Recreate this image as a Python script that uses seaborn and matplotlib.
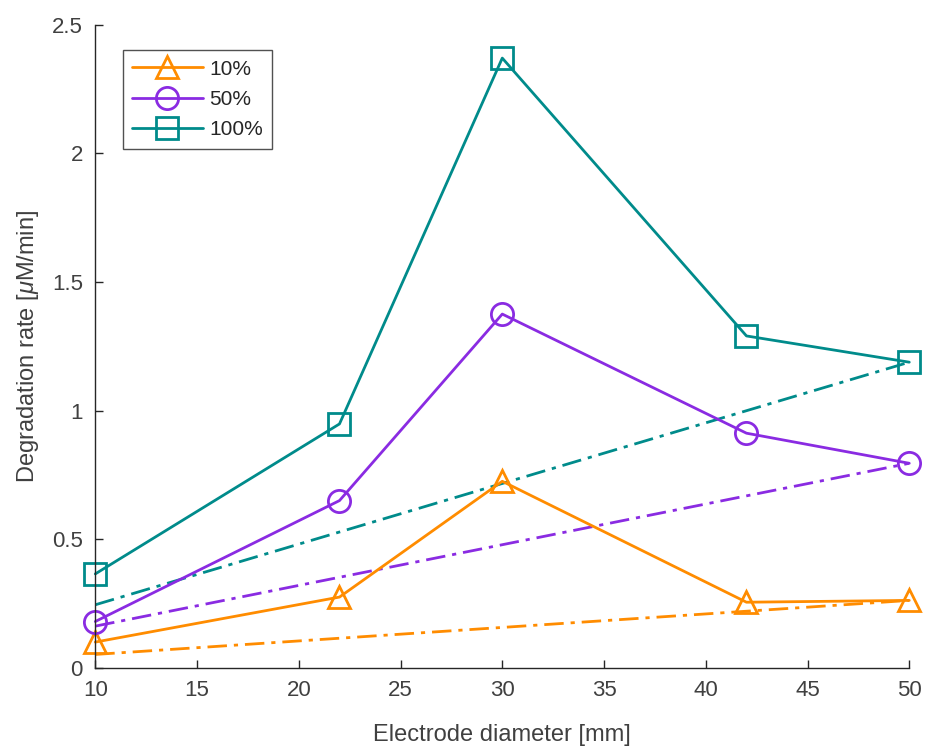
import matplotlib
matplotlib.use("Agg")
import matplotlib.pyplot as plt
import numpy as np
import pandas as pd
import seaborn as sns

# measured data
diameter = [10, 22, 30, 42, 50]
rate_10 = [0.10, 0.275, 0.725, 0.255, 0.262]
rate_50 = [0.18, 0.65, 1.375, 0.912, 0.795]
rate_100 = [0.365, 0.948, 2.37, 1.29, 1.188]

# dash-dot trend lines (end points)
trend_x = [10, 50]
trend_10 = [0.052, 0.262]
trend_50 = [0.162, 0.795]
trend_100 = [0.245, 1.188]

labels = ["10%", "50%", "100%"]
colors = ["#FF8C00", "#8A2BE2", "#008B8B"]
markers = ["^", "o", "s"]

df = pd.DataFrame({
    "diameter": diameter * 3,
    "rate": rate_10 + rate_50 + rate_100,
    "series": [l for l in labels for _ in diameter],
})
df_trend = pd.DataFrame({
    "diameter": trend_x * 3,
    "rate": trend_10 + trend_50 + trend_100,
    "series": [l for l in labels for _ in trend_x],
})

sns.set_style("white")
plt.rcParams["font.family"] = ["Liberation Sans", "DejaVu Sans"]
plt.rcParams["mathtext.fontset"] = "custom"
plt.rcParams["mathtext.it"] = "Liberation Sans:italic"
plt.rcParams["mathtext.rm"] = "Liberation Sans"

fig = plt.figure(figsize=(9.25, 7.47), dpi=100)
ax = fig.add_axes([0.103, 0.106, 0.880, 0.861])

dashdot = (0, (7, 2.5, 1.5, 2.5))
for lab, col, mk in zip(labels, colors, markers):
    d = df_trend.query("series == @lab")
    sns.lineplot(data=d, x="diameter", y="rate", ax=ax, color=col,
                 linewidth=2, linestyle=dashdot, legend=False)

for lab, col, mk in zip(labels, colors, markers):
    d = df.query("series == @lab")
    sns.lineplot(data=d, x="diameter", y="rate", ax=ax, color=col,
                 linewidth=2, marker=mk, markersize=16, markerfacecolor="none",
                 markeredgecolor=col, markeredgewidth=2, label=lab,
                 clip_on=False)

ax.set_xlim(10, 50)
ax.set_ylim(0, 2.5)
ax.set_xticks(np.arange(10, 51, 5))
ax.set_yticks([0, 0.5, 1, 1.5, 2, 2.5])
ax.set_yticklabels(["0", "0.5", "1", "1.5", "2", "2.5"])
ax.set_xlabel("Electrode diameter [mm]", fontsize=17, color="#404040", labelpad=16)
ax.set_ylabel(r"Degradation rate [$\mu$M/min]", fontsize=17, color="#404040", labelpad=8)

for s in ["top", "right"]:
    ax.spines[s].set_visible(False)
for s in ["left", "bottom"]:
    ax.spines[s].set_color("#262626")
    ax.spines[s].set_linewidth(1)
ax.tick_params(direction="in", length=6, width=1, colors="#262626",
               labelsize=16, left=True, bottom=True, pad=9)
for t in ax.get_xticklabels() + ax.get_yticklabels():
    t.set_color("#404040")

leg = ax.legend(loc="upper left", bbox_to_anchor=(0.026, 0.97), fontsize=15,
                frameon=True, fancybox=False, edgecolor="#262626",
                handlelength=3.4, borderaxespad=0.3, labelspacing=0.55,
                handletextpad=0.3, borderpad=0.45)
leg.get_frame().set_linewidth(1)

fig.savefig("out.png", dpi=100)
